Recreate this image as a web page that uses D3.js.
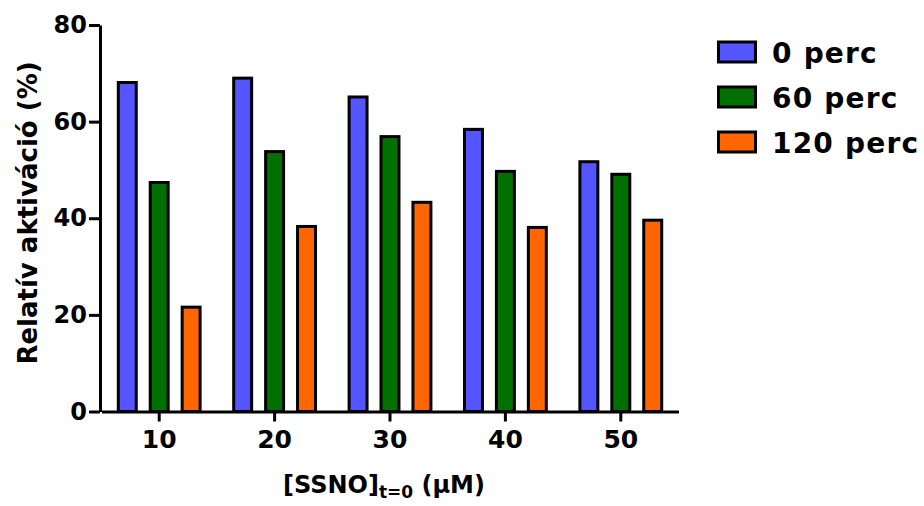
<!DOCTYPE html>
<html>
<head>
<meta charset="utf-8">
<script src="https://cdn.jsdelivr.net/npm/d3@7/dist/d3.min.js"></script>
<style>
  html, body { margin: 0; padding: 0; background: #fff; }
  svg { display: block; }
  text { font-family: "DejaVu Sans", sans-serif; font-weight: bold; fill: #000; }
</style>
</head>
<body>
<script>
// Concentrations of SSNO at t=0 (µM)
const categories = ["10", "20", "30", "40", "50"];
// Series names (incubation time)
const seriesNames = ["0 perc", "60 perc", "120 perc"];
// Relative activation (%) for each series, per concentration
const values0 = [68.1, 69.0, 65.1, 58.4, 51.7];
const values60 = [47.4, 53.8, 56.9, 49.7, 49.1];
const values120 = [21.6, 38.3, 43.3, 38.1, 39.6];
const yTicks = [0, 20, 40, 60, 80];
const colors = ["#5555ff", "#007000", "#ff6600"];

const seriesValues = [values0, values60, values120];

const W = 924, H = 506;
const svg = d3.select("body").append("svg").attr("width", W).attr("height", H);

const x0 = d3.scaleBand().domain(categories).range([101.5, 678.5])
  .paddingInner(0.17).paddingOuter(0.085);
const x1 = d3.scaleBand().domain(seriesNames).range([0, x0.bandwidth()])
  .paddingInner(0.4375).paddingOuter(0.21875);
const y = d3.scaleLinear().domain([0, 80]).range([411.5, 25]);

// Bars
const groups = svg.append("g").selectAll("g")
  .data(categories)
  .join("g")
  .attr("transform", d => `translate(${x0(d)},0)`);

groups.selectAll("rect")
  .data((d, i) => seriesNames.map((s, k) => ({ s, k, v: seriesValues[k][i] })))
  .join("rect")
  .attr("x", d => x1(d.s))
  .attr("width", x1.bandwidth())
  .attr("y", d => y(d.v))
  .attr("height", d => y(0) - y(d.v))
  .attr("fill", d => colors[d.k])
  .attr("stroke", "#000")
  .attr("stroke-width", 3);

// Y axis
const yAxis = svg.append("g")
  .attr("transform", "translate(100,0)")
  .call(d3.axisLeft(y).tickValues(yTicks).tickSize(11).tickSizeOuter(0).tickPadding(2));
yAxis.select(".domain").attr("stroke-width", 3).attr("stroke", "#000");
yAxis.selectAll(".tick line").attr("stroke-width", 3).attr("stroke", "#000");
yAxis.selectAll(".tick text").style("font-size", "24px")
  .style("font-family", "'DejaVu Sans', sans-serif").style("font-weight", "bold");

// X axis
const xAxis = svg.append("g")
  .attr("transform", `translate(0,${y(0)})`)
  .call(d3.axisBottom(x0).tickSize(10).tickSizeOuter(0).tickPadding(9));
xAxis.select(".domain").attr("stroke-width", 3).attr("stroke", "#000");
xAxis.selectAll(".tick line").attr("stroke-width", 3).attr("stroke", "#000");
xAxis.selectAll(".tick text").style("font-size", "25px")
  .style("font-family", "'DejaVu Sans', sans-serif").style("font-weight", "bold");

// Axis titles
svg.append("text")
  .attr("transform", "translate(37,213) rotate(-90)")
  .attr("text-anchor", "middle")
  .style("font-size", "26px")
  .text("Relatív aktiváció (%)");

const xt = svg.append("text")
  .attr("x", 283).attr("y", 493)
  .style("font-size", "24px");
xt.append("tspan").text("[SSNO]");
xt.append("tspan").attr("dy", 5).style("font-size", "17px").text("t=0");
xt.append("tspan").attr("dy", -5).text(" (\u03BCM)");

// Legend
const legend = svg.append("g").selectAll("g")
  .data(seriesNames)
  .join("g")
  .attr("transform", (d, i) => `translate(718.5,${52 + i * 45})`);
legend.append("rect")
  .attr("x", 0).attr("y", -10)
  .attr("width", 37).attr("height", 20)
  .attr("fill", (d, i) => colors[i])
  .attr("stroke", "#000").attr("stroke-width", 3);
legend.append("text")
  .attr("x", 53.5).attr("y", 10.5)
  .style("font-size", "28px")
  .style("letter-spacing", "1.2px")
  .text(d => d);
</script>
</body>
</html>
